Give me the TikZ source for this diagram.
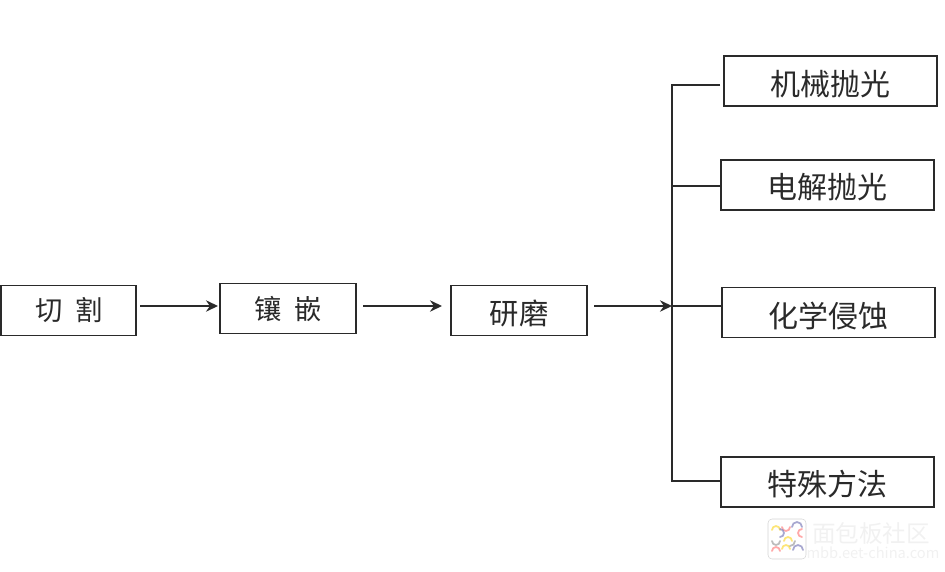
\documentclass[tikz,border=0pt]{standalone}
\usepackage{fontspec}
\newfontfamily\cjk{Noto Sans CJK SC}
\usetikzlibrary{arrows.meta}
\definecolor{ink}{HTML}{2A2A2A}
\definecolor{wm}{HTML}{F1F1F1}
\newcommand{\lowr}[2]{\raisebox{-#1pt}[\height][\depth]{#2}}
\tikzset{x=0.75pt,y=-0.75pt,
  boxnode/.style={draw=ink,line width=1.3pt,minimum height=37.5pt,inner sep=0pt,fill=white,text=ink},
  small/.style={boxnode,minimum width=101.5pt,font=\cjk\fontsize{20.5pt}{24pt}\selectfont},
  wide/.style={boxnode,minimum width=159.5pt,font=\cjk\fontsize{22.5pt}{26pt}\selectfont},
  link/.style={draw=ink,line width=1.3pt},
  flow/.style={link,-{Stealth[length=9pt,width=8.5pt]}},
  ring/.style={line width=1.3pt,line cap=round}}
\begin{document}
\begin{tikzpicture}
\useasboundingbox (0,0) rectangle (945,571);
\node[small] (cut) at (68.5,310.5) {\hspace{1pt}切\hspace{0.44em}割};
\node[small] (mount) at (288,308.5) {镶\hspace{0.48em}嵌};
\node[small,font=\cjk\fontsize{22pt}{26pt}\selectfont] (grind) at (519,310.5) {\lowr{1.9}{研磨}};
\node[wide] (mech) at (830.5,81) {\lowr{2.2}{机械抛光}};
\node[wide] (elec) at (827.5,185) {\lowr{1.5}{电解抛光}};
\node[wide] (chem) at (828.5,312.5) {\lowr{2.6}{化学侵蚀}};
\node[wide] (spec) at (827.5,482) {\lowr{1.5}{特殊方法}};
\coordinate (top) at (672,85);
\coordinate (t2) at (672,186);
\coordinate (mid) at (672,306);
\coordinate (bot) at (672,481);
\coordinate (s1) at (140,306);
\coordinate (e1) at (218,306);
\coordinate (s2) at (363,306);
\coordinate (e2) at (442,306);
\coordinate (s3) at (594,306);
\coordinate (t1e) at (720,85);
\draw[flow] (s1) -- (e1);
\draw[flow] (s2) -- (e2);
\draw[flow] (s3) -- (mid);
\draw[link] (t1e) -- (top) -- (bot) -- (spec.west |- bot);
\draw[link] (t2) -- (elec.west |- t2);
\draw[link] (mid) -- (chem.west |- mid);
% watermark
\begin{scope}[opacity=0.75]
\draw[draw=black!22,fill=white,rounded corners=3pt,line width=0.4pt] (768,519) rectangle (806,559);
\draw[ring,color=yellow!70!orange!70] (772,530) arc (180:360:4);
\draw[ring,color=red!45] (782,527) arc (180:0:4);
\draw[ring,color=blue!30!gray!70] (792,527) arc (180:360:5);
\draw[ring,color=gray!70] (772,541) arc (180:0:4);
\draw[ring,color=blue!30!gray!70] (780,537) arc (90:-90:4);
\draw[ring,color=yellow!70!orange!70] (784,541) arc (180:360:4);
\draw[ring,color=red!45] (802,537) arc (90:270:4);
\draw[ring,color=red!45] (772,551) arc (180:360:4);
\draw[ring,color=yellow!70!orange!70] (782,549) arc (180:360:4);
\draw[ring,color=gray!70] (790,546) arc (90:0:5);
\draw[ring,color=blue!30!gray!70] (793,550) arc (180:360:5);
\end{scope}
\node[text=wm,font=\cjk\fontsize{17.7pt}{20pt}\selectfont,inner sep=0pt] (wmcn) at (871,533) {面包板社区};
\node[text=wm,font=\cjk\fontsize{11pt}{13pt}\selectfont,inner sep=0pt] (wmen) at (873,553) {mbb.eet-china.com};
\end{tikzpicture}
\end{document}
